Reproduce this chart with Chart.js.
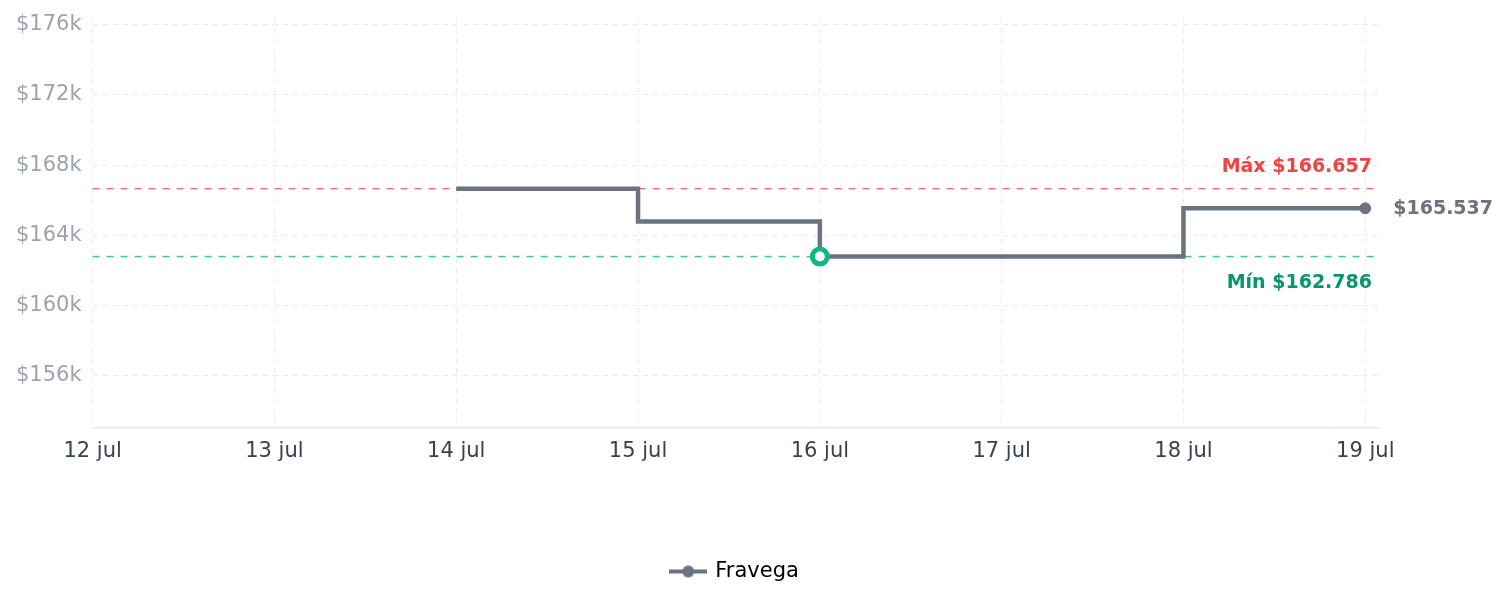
<!DOCTYPE html>
<html>
<head>
<meta charset="utf-8">
<script src="https://cdn.jsdelivr.net/npm/chart.js@4.4.1/dist/chart.umd.min.js"></script>
<style>
  html, body { margin: 0; padding: 0; background: #ffffff; }
  #wrap { width: 1505px; height: 607px; position: relative; }
</style>
</head>
<body>
<div id="wrap"><canvas id="priceChart"></canvas></div>
<script>
// days shown on the x axis
const dates = ['12 jul', '13 jul', '14 jul', '15 jul', '16 jul', '17 jul', '18 jul', '19 jul'];
// price per day (no data before 14 jul)
const prices = [null, null, 166657, 164780, 162786, 162786, 165537, 165537];
const storeName = 'Fravega';
const yTicks = [156000, 160000, 164000, 168000, 172000, 176000];

/* COLORS */
const lineColor = '#6b7280';
const maxColor = '#ef4444';
const minColor = '#059669';
const minRing = '#10b981';
const gridColor = '#ebebee';

const validPrices = prices.filter(v => v !== null);
const maxPrice = Math.max(...validPrices);
const minPrice = Math.min(...validPrices);
const minIndex = prices.indexOf(minPrice);
const lastIndex = prices.length - 1;

function fmt(v) {
    return '$' + String(Math.round(v)).replace(/\B(?=(\d{3})+(?!\d))/g, '.');
}

Chart.defaults.font.family = "'DejaVu Sans', sans-serif";

// legend marker: short line with a dot
const legendIcon = document.createElement('canvas');
legendIcon.width = 38;
legendIcon.height = 14;
(function () {
    const c = legendIcon.getContext('2d');
    c.strokeStyle = lineColor;
    c.lineWidth = 4;
    c.beginPath();
    c.moveTo(0, 7);
    c.lineTo(38, 7);
    c.stroke();
    c.fillStyle = lineColor;
    c.beginPath();
    c.arc(19, 7, 6, 0, Math.PI * 2);
    c.fill();
})();

// legend sits centered under the plot area, not the whole canvas
const legendShift = {
    id: 'legendShift',
    afterLayout(chart) {
        const lg = chart.legend;
        if (!lg) return;
        const d = (chart.chartArea.left + chart.chartArea.right) / 2 - (lg.left + lg.right) / 2;
        lg.left += d;
        lg.right += d;
    }
};

const refLines = {
    id: 'refLines',
    beforeDatasetsDraw(chart) {
        const { ctx, chartArea, scales } = chart;
        const draw = (val, color) => {
            const y = scales.y.getPixelForValue(val);
            ctx.save();
            ctx.strokeStyle = color;
            ctx.lineWidth = 1.5;
            ctx.setLineDash([7, 7]);
            ctx.beginPath();
            ctx.moveTo(chartArea.left, y);
            ctx.lineTo(chartArea.right, y);
            ctx.stroke();
            ctx.restore();
        };
        draw(maxPrice, 'rgba(239, 68, 68, 0.75)');
        draw(minPrice, 'rgba(16, 185, 129, 0.8)');
    },
    afterDatasetsDraw(chart) {
        const { ctx, chartArea, scales } = chart;
        const yMax = scales.y.getPixelForValue(maxPrice);
        const yMin = scales.y.getPixelForValue(minPrice);
        ctx.save();
        ctx.font = "bold 19px 'DejaVu Sans'";
        ctx.textAlign = 'right';
        ctx.textBaseline = 'alphabetic';
        ctx.fillStyle = maxColor;
        ctx.fillText('Máx ' + fmt(maxPrice), chartArea.right - 6, yMax - 17);
        ctx.fillStyle = minColor;
        ctx.fillText('Mín ' + fmt(minPrice), chartArea.right - 6, yMin + 31);

        // last price label
        const lx = scales.x.getPixelForValue(lastIndex);
        const ly = scales.y.getPixelForValue(prices[lastIndex]);
        ctx.textAlign = 'left';
        ctx.textBaseline = 'middle';
        ctx.fillStyle = lineColor;
        ctx.fillText(fmt(prices[lastIndex]), lx + 28, ly + 1);
        ctx.restore();
    }
};

const ctx = document.getElementById('priceChart').getContext('2d');

new Chart(ctx, {
    type: 'line',
    data: {
        datasets: [{
            label: storeName,
            data: dates.map((d, i) => ({ x: i, y: prices[i] })),
            borderColor: lineColor,
            backgroundColor: lineColor,
            borderWidth: 4.5,
            stepped: true,
            fill: false,
            pointRadius: c => c.dataIndex === minIndex ? 7.5 : (c.dataIndex === lastIndex ? 5.5 : 0),
            pointBorderWidth: c => c.dataIndex === minIndex ? 5 : 1,
            pointBackgroundColor: c => c.dataIndex === minIndex ? '#ffffff' : lineColor,
            pointBorderColor: c => c.dataIndex === minIndex ? minRing : lineColor,
            pointHoverRadius: 6
        }]
    },
    options: {
        responsive: true,
        maintainAspectRatio: false,
        animation: false,
        layout: {
            padding: { left: 5, top: 18, right: 127, bottom: 15 }
        },
        plugins: {
            legend: {
                position: 'bottom',
                labels: {
                    color: '#000000',
                    font: { size: 21 },
                    usePointStyle: true,
                    pointStyleWidth: 33,
                    padding: 10,
                    generateLabels(chart) {
                        const items = Chart.defaults.plugins.legend.labels.generateLabels(chart);
                        items.forEach(it => { it.pointStyle = legendIcon; });
                        return items;
                    }
                }
            },
            tooltip: { enabled: true }
        },
        scales: {
            x: {
                type: 'linear',
                min: 0,
                max: 7.07,
                afterBuildTicks(scale) {
                    scale.ticks = dates.map((d, i) => ({ value: i }));
                },
                afterFit(scale) {
                    scale.height = 123;
                },
                grid: {
                    color: gridColor,
                    drawTicks: false
                },
                border: { display: true, color: '#e5e7eb', width: 1.5, dash: [5, 5] },
                ticks: {
                    color: '#374151',
                    font: { size: 21 },
                    padding: 11,
                    callback: v => dates[v]
                }
            },
            y: {
                min: 153019,
                max: 176380,
                afterBuildTicks(scale) {
                    scale.ticks = yTicks.map(v => ({ value: v }));
                },
                afterFit(scale) {
                    scale.paddingTop = 0;
                },
                grid: {
                    color: gridColor,
                    drawTicks: false
                },
                border: { display: false, dash: [5, 5] },
                ticks: {
                    color: '#9ca3af',
                    font: { size: 21 },
                    padding: 11,
                    callback: v => '$' + (v / 1000) + 'k'
                }
            }
        }
    },
    plugins: [refLines, legendShift]
});
</script>
</body>
</html>
